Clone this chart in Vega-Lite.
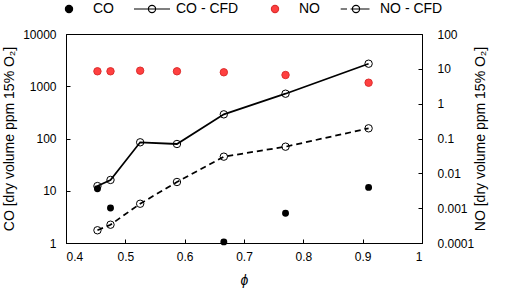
{
  "$schema": "https://vega.github.io/schema/vega-lite/v6.json",
  "width": 356,
  "height": 209,
  "autosize": {"type": "none"},
  "padding": {"left": 66, "top": 34, "right": 88, "bottom": 45},
  "background": "white",
  "config": {
    "font": "Liberation Sans",
    "view": {"stroke": "black", "strokeWidth": 1},
    "axis": {
      "grid": false,
      "domainColor": "black",
      "tickColor": "black",
      "labelColor": "black",
      "titleColor": "black",
      "labelFont": "Liberation Sans",
      "titleFont": "Liberation Sans",
      "labelFontSize": 12,
      "titleFontSize": 14,
      "titleFontWeight": "normal",
      "tickSize": -4,
      "labelPadding": 14
    },
    "legend": {
      "labelFont": "Liberation Sans",
      "labelFontSize": 14,
      "labelColor": "black"
    }
  },
  "datasets": {
    "co": [
      {"series": "CO", "phi": 0.453, "value": 10.9},
      {"series": "CO", "phi": 0.475, "value": 4.68},
      {"series": "CO", "phi": 0.666, "value": 1.05},
      {"series": "CO", "phi": 0.77, "value": 3.7},
      {"series": "CO", "phi": 0.91, "value": 11.6}
    ],
    "cocfd": [
      {"series": "CO - CFD", "phi": 0.453, "value": 12.3},
      {"series": "CO - CFD", "phi": 0.475, "value": 16.1},
      {"series": "CO - CFD", "phi": 0.525, "value": 84.6},
      {"series": "CO - CFD", "phi": 0.587, "value": 78.5},
      {"series": "CO - CFD", "phi": 0.666, "value": 290},
      {"series": "CO - CFD", "phi": 0.77, "value": 720},
      {"series": "CO - CFD", "phi": 0.91, "value": 2700}
    ],
    "no": [
      {"series": "NO", "phi": 0.453, "value": 8.5},
      {"series": "NO", "phi": 0.475, "value": 8.5},
      {"series": "NO", "phi": 0.525, "value": 8.85},
      {"series": "NO", "phi": 0.587, "value": 8.5},
      {"series": "NO", "phi": 0.666, "value": 7.96},
      {"series": "NO", "phi": 0.77, "value": 6.65},
      {"series": "NO", "phi": 0.91, "value": 4.0}
    ],
    "nocfd": [
      {"series": "NO - CFD", "phi": 0.453, "value": 0.000232},
      {"series": "NO - CFD", "phi": 0.475, "value": 0.000335},
      {"series": "NO - CFD", "phi": 0.525, "value": 0.00134},
      {"series": "NO - CFD", "phi": 0.587, "value": 0.00564},
      {"series": "NO - CFD", "phi": 0.666, "value": 0.0301},
      {"series": "NO - CFD", "phi": 0.77, "value": 0.0582},
      {"series": "NO - CFD", "phi": 0.91, "value": 0.196}
    ],
    "legend": [
      {"series": "CO"},
      {"series": "CO - CFD"},
      {"series": "NO"},
      {"series": "NO - CFD"}
    ]
  },
  "encoding": {
    "x": {
      "field": "phi",
      "type": "quantitative",
      "scale": {"domain": [0.4, 1], "nice": false, "zero": false},
      "axis": {
        "title": "ϕ",
        "titleFontStyle": "italic",
        "values": [0.4, 0.5, 0.6, 0.7, 0.8, 0.9, 1],
        "format": "~g",
        "labelPadding": 12,
        "titlePadding": 11
      }
    }
  },
  "layer": [
    {
      "encoding": {
        "y": {
          "field": "value",
          "type": "quantitative",
          "scale": {"type": "log", "domain": [1, 10000], "nice": false},
          "axis": {
            "orient": "left",
            "title": "CO [dry volume ppm 15% O₂]",
            "values": [1, 10, 100, 1000, 10000],
            "format": "~g",
            "titlePadding": 6
          }
        }
      },
      "layer": [
        {
          "data": {"name": "cocfd"},
          "mark": {"type": "line", "color": "black", "strokeWidth": 1.75}
        },
        {
          "data": {"name": "co"},
          "mark": {"type": "point", "filled": true, "color": "black", "size": 48, "opacity": 1}
        },
        {
          "data": {"name": "cocfd"},
          "mark": {"type": "point", "filled": false, "stroke": "black", "fill": "transparent", "size": 55, "strokeWidth": 1, "opacity": 1}
        },
        {
          "data": {"name": "legend"},
          "transform": [{"filter": "false"}],
          "mark": {"type": "point", "opacity": 1, "strokeWidth": 1.2},
          "encoding": {
            "shape": {
              "field": "series",
              "type": "nominal",
              "scale": {
                "domain": ["CO", "CO - CFD", "NO", "NO - CFD"],
                "range": [
                  "M-0.2,0A0.2,0.2 0 1,0 0.2,0A0.2,0.2 0 1,0 -0.2,0Z",
                  "M-1,0H1M-0.2,0A0.2,0.2 0 1,0 0.2,0A0.2,0.2 0 1,0 -0.2,0Z",
                  "M-0.2,0A0.2,0.2 0 1,0 0.2,0A0.2,0.2 0 1,0 -0.2,0Z",
                  "M-0.85,0H-0.5M-0.3,0H0.75M-0.2,0A0.2,0.2 0 1,0 0.2,0A0.2,0.2 0 1,0 -0.2,0Z"
                ]
              },
              "legend": {
                "title": null,
                "orient": "none",
                "direction": "horizontal",
                "columns": 4,
                "legendX": -16,
                "legendY": -44,
                "symbolSize": 1296,
                "symbolStrokeWidth": 1.2,
                "labelOffset": 5,
                "columnPadding": 17,
                "padding": 0
              }
            },
            "fill": {
              "field": "series",
              "type": "nominal",
              "scale": {"domain": ["CO", "CO - CFD", "NO", "NO - CFD"], "range": ["black", "white", "#ff4040", "white"]}
            },
            "stroke": {
              "field": "series",
              "type": "nominal",
              "scale": {"domain": ["CO", "CO - CFD", "NO", "NO - CFD"], "range": ["black", "black", "#dd2e2e", "black"]}
            }
          }
        }
      ]
    },
    {
      "encoding": {
        "y": {
          "field": "value",
          "type": "quantitative",
          "scale": {"type": "log", "domain": [0.0001, 100], "nice": false},
          "axis": {
            "orient": "right",
            "title": "NO [dry volume ppm 15% O₂]",
            "titleAngle": 270,
            "values": [0.0001, 0.001, 0.01, 0.1, 1, 10, 100],
            "format": "~g",
            "labelPadding": 19,
            "titlePadding": 14
          }
        }
      },
      "layer": [
        {
          "data": {"name": "nocfd"},
          "mark": {"type": "line", "color": "black", "strokeWidth": 1.75, "strokeDash": [6, 4]}
        },
        {
          "data": {"name": "no"},
          "mark": {"type": "point", "filled": true, "fill": "#ff4040", "stroke": "#dd2e2e", "strokeWidth": 1, "size": 55, "opacity": 1}
        },
        {
          "data": {"name": "nocfd"},
          "mark": {"type": "point", "filled": false, "stroke": "black", "fill": "transparent", "size": 55, "strokeWidth": 1, "opacity": 1}
        }
      ]
    }
  ],
  "resolve": {"scale": {"y": "independent"}}
}
